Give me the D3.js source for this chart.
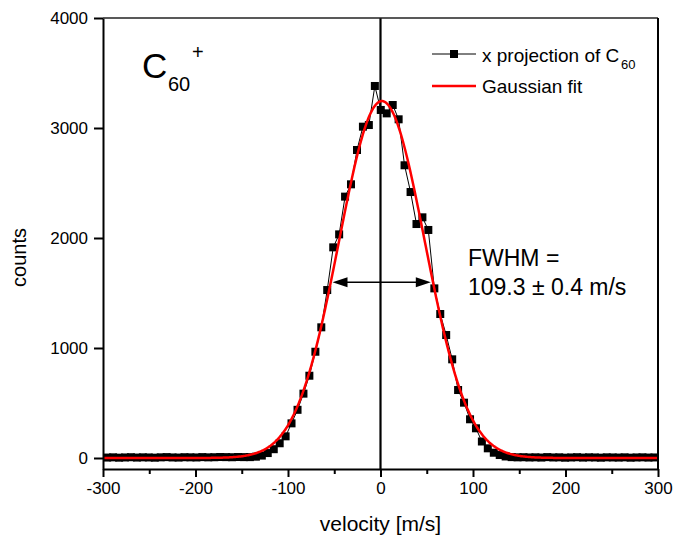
<!DOCTYPE html>
<html>
<head>
<meta charset="utf-8">
<script src="https://cdn.jsdelivr.net/npm/d3@7.9.0/dist/d3.min.js"></script>
<style>
  body { margin: 0; background: #fff; }
  svg { display: block; font-family: Arial, "Liberation Sans", sans-serif; }
</style>
</head>
<body>
<div id="chart"></div>
<script>
// measured velocities [m/s] of the x projection
const velocity = [
  -295.5, -289.1, -282.6, -276.2, -269.8, -263.3, -256.9, -250.5, -244.0, -237.6,
  -231.2, -224.8, -218.3, -211.9, -205.5, -199.0, -192.6, -186.2, -179.7, -173.3,
  -166.9, -160.5, -154.0, -147.6, -141.2, -134.7, -128.3, -121.9, -115.4, -109.0,
  -102.6, -96.2, -89.7, -83.3, -76.9, -70.4, -64.0, -57.6, -51.1, -44.7,
  -38.3, -31.9, -25.4, -19.0, -12.6, -6.1, 0.3, 6.7, 13.2, 19.6,
  26.0, 32.5, 38.9, 45.3, 51.7, 58.2, 64.6, 71.0, 77.5, 83.9,
  90.3, 96.8, 103.2, 109.6, 116.0, 122.5, 128.9, 135.3, 141.8, 148.2,
  154.6, 161.0, 167.5, 173.9, 180.3, 186.8, 193.2, 199.6, 206.1, 212.5,
  218.9, 225.4, 231.8, 238.2, 244.6, 251.1, 257.5, 263.9, 270.4, 276.8,
  283.2, 289.7, 296.1
];
const counts = [
  4, 6, 3, 5, 7, 4, 6, 5, 3, 6,
  8, 5, 4, 7, 6, 5, 8, 6, 7, 9,
  8, 7, 9, 8, 8, 12, 22, 45, 80, 134,
  197, 315, 438, 585, 748, 966, 1188, 1527, 1915, 2033,
  2376, 2488, 2800, 3012, 3027, 3382, 3164, 3133, 3209, 3079,
  2661, 2418, 2127, 2188, 2073, 1542, 1309, 1118, 897, 618,
  503, 352, 270, 150, 88, 48, 27, 14, 8, 6,
  7, 5, 6, 4, 8, 5, 6, 3, 5, 7,
  4, 6, 5, 3, 6, 5, 4, 6, 3, 5,
  6, 4, 5
];

// Gaussian fit parameters
const fitCenter = 1.5;
const fitHeight = 3245;
const fitOffset = 0;
const fitFWHM = 109.3;

// FWHM arrow (data units)
const fwhmArrow = [[-51.9, 1597], [54.4, 1597]];

const xTicks = [-300, -200, -100, 0, 100, 200, 300];
const xMinorTicks = [-250, -150, -50, 50, 150, 250];
const yTicks = [0, 1000, 2000, 3000, 4000];

const width = 673;
const height = 538;
const margin = { top: 18, right: 15, bottom: 69, left: 103 };

const svg = d3.select('#chart')
  .append('svg')
  .attr('width', width)
  .attr('height', height);

const xScale = d3.scaleLinear()
  .domain([-300, 300])
  .range([margin.left, width - margin.right]);
const yScale = d3.scaleLinear()
  .domain([-100, 4000])
  .range([height - margin.bottom, margin.top]);

const plotTop = margin.top;
const plotBottom = height - margin.bottom;
const plotLeft = margin.left;
const plotRight = width - margin.right;

// zero velocity line
svg.append('line')
  .attr('x1', xScale(0)).attr('x2', xScale(0))
  .attr('y1', plotTop).attr('y2', plotBottom)
  .attr('stroke', '#000')
  .attr('stroke-width', 2.2);

// data: connecting line and squares
const points = velocity.map((v, i) => ({ v, c: counts[i] }));

svg.append('path')
  .datum(points)
  .attr('fill', 'none')
  .attr('stroke', '#000')
  .attr('stroke-width', 1)
  .attr('d', d3.line().x(d => xScale(d.v)).y(d => yScale(d.c)));

const sq = 8;
svg.append('g')
  .selectAll('rect')
  .data(points)
  .join('rect')
  .attr('x', d => xScale(d.v) - sq / 2)
  .attr('y', d => yScale(d.c) - sq / 2)
  .attr('width', sq)
  .attr('height', sq)
  .attr('fill', '#000');

// Gaussian fit curve
const sigma = fitFWHM / (2 * Math.sqrt(2 * Math.log(2)));
const fitLine = d3.range(-300, 300.5, 1).map(v => ({
  v,
  c: fitOffset + fitHeight * Math.exp(-((v - fitCenter) ** 2) / (2 * sigma * sigma))
}));
svg.append('path')
  .datum(fitLine)
  .attr('fill', 'none')
  .attr('stroke', '#ff0000')
  .attr('stroke-width', 2.5)
  .attr('d', d3.line().x(d => xScale(d.v)).y(d => yScale(d.c)));

// axes
const fmt = d => String(d);
svg.append('g')
  .attr('transform', `translate(0, ${plotBottom})`)
  .call(d3.axisBottom(xScale).tickValues(xTicks).tickFormat(fmt)
    .tickSize(8).tickSizeOuter(0).tickPadding(5));
svg.append('g')
  .attr('transform', `translate(0, ${plotBottom})`)
  .call(d3.axisBottom(xScale).tickValues(xMinorTicks).tickSize(5).tickFormat(''))
  .call(g => g.select('.domain').remove());

svg.append('g')
  .attr('transform', `translate(${plotLeft}, 0)`)
  .call(d3.axisLeft(yScale).tickValues(yTicks).tickFormat(fmt)
    .tickSize(9).tickSizeOuter(0).tickPadding(6));

svg.selectAll('.domain').attr('stroke-width', 2);
svg.selectAll('.tick line').attr('stroke-width', 2);
svg.selectAll('.tick text')
  .attr('font-size', 17)
  .attr('fill', '#000')
  .style('font-family', 'Arial, "Liberation Sans", sans-serif');

// top and right frame
svg.append('line')
  .attr('x1', plotLeft).attr('x2', plotRight)
  .attr('y1', plotTop).attr('y2', plotTop)
  .attr('stroke', '#222').attr('stroke-width', 1.5);
svg.append('line')
  .attr('x1', plotRight).attr('x2', plotRight)
  .attr('y1', plotTop).attr('y2', plotBottom)
  .attr('stroke', '#000').attr('stroke-width', 2);

// axis titles
svg.append('text')
  .attr('x', xScale(0))
  .attr('y', 531)
  .attr('text-anchor', 'middle')
  .attr('font-size', 21)
  .text('velocity [m/s]');

svg.append('text')
  .attr('transform', `translate(26, ${(plotTop + plotBottom) / 2 + 14}) rotate(-90)`)
  .attr('text-anchor', 'middle')
  .attr('font-size', 20)
  .text('counts');

// species label
svg.append('text').attr('x', 142).attr('y', 78).attr('font-size', 35).text('C');
svg.append('text').attr('x', 168).attr('y', 91).attr('font-size', 20).text('60');
svg.append('text').attr('x', 192).attr('y', 59).attr('font-size', 20).text('+');

// legend
const legendX0 = 432;
const legendX1 = 476;
svg.append('line')
  .attr('x1', legendX0).attr('x2', legendX1)
  .attr('y1', 54).attr('y2', 54)
  .attr('stroke', '#000').attr('stroke-width', 1);
svg.append('rect')
  .attr('x', (legendX0 + legendX1) / 2 - 4).attr('y', 50)
  .attr('width', 8).attr('height', 8)
  .attr('fill', '#000');
svg.append('text').attr('x', 482).attr('y', 62).attr('font-size', 19).text('x projection of C');
svg.append('text').attr('x', 621).attr('y', 69).attr('font-size', 13).text('60');

svg.append('line')
  .attr('x1', legendX0).attr('x2', legendX1)
  .attr('y1', 86).attr('y2', 86)
  .attr('stroke', '#ff0000').attr('stroke-width', 2.5);
svg.append('text').attr('x', 482).attr('y', 93).attr('font-size', 19).text('Gaussian fit');

// FWHM annotation
const ax0 = xScale(fwhmArrow[0][0]);
const ax1 = xScale(fwhmArrow[1][0]);
const ay = yScale(fwhmArrow[0][1]);
svg.append('line')
  .attr('x1', ax0 + 10).attr('x2', ax1 - 10)
  .attr('y1', ay).attr('y2', ay)
  .attr('stroke', '#000').attr('stroke-width', 1.5);
svg.append('path')
  .attr('d', `M${ax0},${ay} L${ax0 + 15},${ay - 5} L${ax0 + 15},${ay + 5} Z`)
  .attr('fill', '#000');
svg.append('path')
  .attr('d', `M${ax1},${ay} L${ax1 - 15},${ay - 5} L${ax1 - 15},${ay + 5} Z`)
  .attr('fill', '#000');

svg.append('text').attr('x', 468).attr('y', 266).attr('font-size', 23).text('FWHM =');
svg.append('text').attr('x', 468).attr('y', 295).attr('font-size', 23).text('109.3 \u00b1 0.4 m/s');
</script>
</body>
</html>
